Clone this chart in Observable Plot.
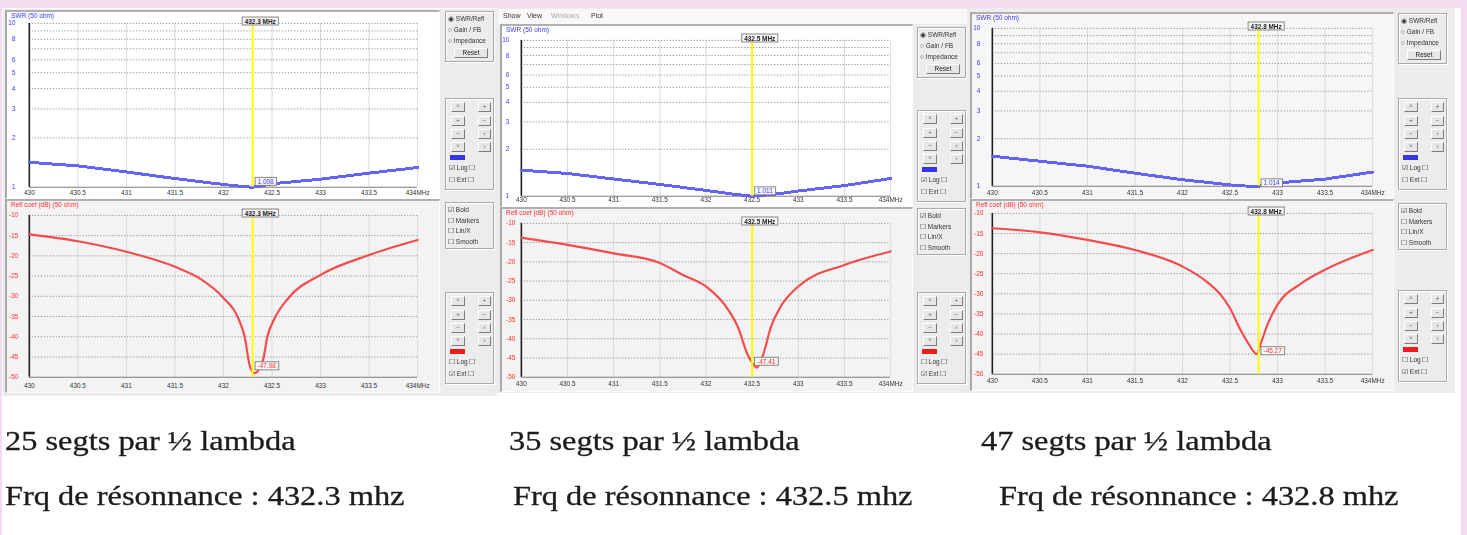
<!DOCTYPE html>
<html><head><meta charset="utf-8">
<script src="https://cdn.jsdelivr.net/npm/d3@7"></script>
<script src="https://cdn.jsdelivr.net/npm/@observablehq/plot@0.6"></script>
<style>
html,body{margin:0;padding:0;}
body{width:1467px;height:535px;background:#f2dcee;position:relative;overflow:hidden;font-family:"Liberation Sans",Arial,sans-serif;}
.abs{position:absolute;}
#paper{left:2px;top:8px;width:1459px;height:527px;background:#fff;}
#root{filter:blur(0.35px);}
.win{background:#ececec;}
.frame{box-sizing:border-box;border-style:solid;border-width:2px 1px 1px 2px;border-color:#b0b0b0 #fcfcfc #fcfcfc #a8a8a8;overflow:visible;}
.frame svg{position:absolute;left:-2px;top:-2px;overflow:visible;}
.box{box-sizing:border-box;border:1px solid #a9a9a9;box-shadow:1px 1px 0 #fff, inset 1px 1px 0 #fff;}
.ui{font-size:6.5px;color:#333;white-space:nowrap;line-height:8px;}
.btn{box-sizing:border-box;border:1px solid;border-color:#fff #7c7c7c #7c7c7c #fff;background:#e6e6e6;font-size:6px;line-height:7px;text-align:center;color:#555;}
.ttl{font-size:6.5px;white-space:nowrap;line-height:7px;}
.cap{font-family:"Liberation Serif","Times New Roman",serif;font-size:27px;line-height:27px;color:#1c1c1c;-webkit-text-stroke:0.3px #1c1c1c;white-space:nowrap;transform:scaleX(1.2);transform-origin:0 0;}
</style>
</head><body>
<div id="paper" class="abs"></div>
<div id="root" class="abs" style="left:0;top:0;width:1467px;height:400px;"></div>
<div id="caps" class="abs" style="left:0;top:0;width:1467px;height:535px;"></div>
<script>
// ---------- data ----------
const freqTicks = [430, 430.5, 431, 431.5, 432, 432.5, 433, 433.5, 434];
const freqTickLabels = ["430", "430.5", "431", "431.5", "432", "432.5", "433", "433.5", "434MHz"];
const swrTicks = [1, 2, 3, 4, 5, 6, 8, 10];
const swrGrid = [2, 3, 4, 5, 6, 7, 8, 9, 10];
const rlTicks = [-10, -15, -20, -25, -30, -35, -40, -45, -50];

const segments = [25, 35, 47];
const resonance = [432.3, 432.5, 432.8];

// 25 segments
const swrFreq1 = [430, 430.5, 431, 431.5, 432, 432.2, 432.3, 432.4, 432.5, 433, 433.5, 434];
const swrVal1  = [1.42, 1.35, 1.24, 1.13, 1.04, 1.01, 1.0, 1.02, 1.05, 1.12, 1.22, 1.32];
const rlFreq1 = [430, 430.5, 431, 431.5, 431.75, 432, 432.15, 432.22, 432.27, 432.32, 432.38, 432.41, 432.45, 432.53, 432.67, 433, 433.5, 434];
const rlVal1  = [-14.7, -16.4, -19.0, -22.7, -25.5, -30.4, -35.3, -40.2, -47.1, -49.0, -47.5, -45.5, -40.2, -35.3, -30.4, -24.7, -19.8, -16.1];

// 35 segments
const swrFreq2 = [430, 430.5, 431, 431.5, 432, 432.3, 432.5, 432.6, 432.8, 433, 433.5, 434];
const swrVal2  = [1.47, 1.40, 1.29, 1.19, 1.09, 1.03, 1.0, 1.01, 1.04, 1.08, 1.17, 1.30];
const rlFreq2 = [430, 430.5, 431, 431.5, 431.75, 432, 432.25, 432.35, 432.45, 432.5, 432.55, 432.62, 432.7, 432.8, 433, 433.5, 434];
const rlVal2  = [-13.7, -15.6, -17.8, -20.3, -23.4, -26.4, -32.8, -37.2, -44.1, -46.2, -47.5, -44.1, -37.2, -32.0, -26.4, -20.8, -17.3];

// 47 segments
const swrFreq3 = [430, 430.5, 431, 431.5, 432, 432.5, 432.7, 432.8, 433, 433.5, 434];
const swrVal3  = [1.55, 1.44, 1.34, 1.21, 1.10, 1.02, 1.0, 1.0, 1.05, 1.11, 1.23];
const rlFreq3 = [430, 430.5, 431, 431.5, 432, 432.25, 432.4, 432.5, 432.6, 432.7, 432.78, 432.82, 432.9, 433, 433.25, 433.5, 434];
const rlVal3  = [-13.7, -14.7, -16.6, -19.1, -23.2, -26.9, -30.2, -33.6, -38.5, -42.6, -45.0, -42.6, -37.3, -32.7, -27.4, -24.0, -19.1];

const swrReadout = ["1.008", "1.011", "1.014"];
const rlReadout = ["-47.98", "-47.41", "-45.27"];

const swrTitle = "SWR (50 ohm)";
const rlTitle = "Refl coef (dB) (50 ohm)";
const radioLabels = ["SWR/Refl", "Gain / FB", "Impedance"];
const checkLabels = ["Bold", "Markers", "Lin/X", "Smooth"];
const menuLabels = ["Show", "View", "Windows", "Plot"];

// ---------- layout ----------
const layout = [
  {win:[3,9,494,387],
   swr:{l:5,t:10,w:435,h:189,x0:29,x1:420,yT:23,yB:188,xp:3,yp:14,bg:"#ffffff",vdy:-5.5},
   rl:{l:5,t:199,w:435,h:194,x0:29,x1:420,yT:215,yB:378,xp:6,yp:11,bg:"#f3f3f3",vdy:-7},
   ctl:{l:445,a:11,b:98,c:202,d:292}},
  {win:[497,8,471,385], menu:true,
   swr:{l:500,t:24,w:413,h:183,x0:521,x1:893,yT:40,yB:197,xp:1.5,yp:12,bg:"#ffffff",vdy:-5},
   rl:{l:500,t:207,w:413,h:185,x0:521,x1:893,yT:223,yB:378,xp:4,yp:6,bg:"#f3f3f3",vdy:-6},
   ctl:{l:917,a:27,b:110,c:208,d:292}},
  {win:[968,8,487,385],
   swr:{l:970,t:12,w:424,h:187,x0:992,x1:1375,yT:28,yB:187,xp:4,yp:12,bg:"#f6f6f6",vdy:-3},
   rl:{l:970,t:199,w:424,h:192,x0:992,x1:1375,yT:213,yB:375,xp:4.5,yp:9,bg:"#f3f3f3",vdy:-3},
   ctl:{l:1398,a:13,b:98,c:203,d:290}}
];
const series = [
  {sf:swrFreq1, sv:swrVal1, rf:rlFreq1, rv:rlVal1},
  {sf:swrFreq2, sv:swrVal2, rf:rlFreq2, rv:rlVal2},
  {sf:swrFreq3, sv:swrVal3, rf:rlFreq3, rv:rlVal3}
];

const root = document.getElementById("root");
const caps = document.getElementById("caps");
function div(cls, l, t, w, h, html, style, parent) {
  const d = document.createElement("div");
  d.className = "abs " + (cls || "");
  d.style.left = l + "px"; d.style.top = t + "px";
  if (w != null) d.style.width = w + "px";
  if (h != null) d.style.height = h + "px";
  if (style) d.style.cssText += style;
  if (html != null) d.innerHTML = html;
  (parent || root).appendChild(d);
  return d;
}

function boxText(svg) {
  svg.querySelectorAll('g[aria-label="text"] text').forEach(t => {
    const b = t.getBBox();
    const r = document.createElementNS("http://www.w3.org/2000/svg", "rect");
    r.setAttribute("x", b.x - 2.5); r.setAttribute("y", b.y - 0.5);
    r.setAttribute("width", b.width + 5); r.setAttribute("height", b.height + 1);
    r.setAttribute("fill", "#f7f7f7"); r.setAttribute("stroke", "#7a7a7a"); r.setAttribute("stroke-width", "0.9");
    if (t.getAttribute("transform")) r.setAttribute("transform", t.getAttribute("transform"));
    t.parentNode.insertBefore(r, t);
  });
}

function chart(g, kind, fs, vs, res, readout) {
  const swr = kind === "swr";
  const col = swr ? "#3a3aff" : "#ff2d2d";
  const data = fs.map((f, i) => ({f, v: vs[i]}));
  const minV = d3.min(vs);
  const yBot = swr ? 1 : -50;
  const frame = div("frame", g.l, g.t, g.w, g.h, null, "background:" + g.bg);
  const svg = Plot.plot({
    width: g.w, height: g.h,
    marginLeft: g.x0 - g.l, marginRight: g.l + g.w - g.x1,
    marginTop: g.yT - g.t, marginBottom: g.t + g.h - g.yB,
    style: {background: "transparent", fontFamily: "'Liberation Sans',Arial,sans-serif", fontSize: "6.5px", overflow: "visible"},
    x: {domain: [430, 434], label: null},
    y: swr ? {type: "log", domain: [1, 10], label: null} : {domain: [-50, -10], label: null},
    marks: [
      Plot.ruleX(freqTicks.slice(1), {stroke: "#dadada", strokeWidth: 1}),
      Plot.ruleY(swr ? swrGrid : rlTicks.slice(0, -1), {stroke: "#989898", strokeDasharray: "1.3,1.7"}),
      Plot.ruleY([yBot], {stroke: "#7a7a7a"}),
      Plot.axisX({ticks: freqTicks, tickSize: 0, tickPadding: g.xp, fill: "#333",
        tickFormat: d => freqTickLabels[freqTicks.indexOf(d)]}),
      Plot.axisY({ticks: swr ? swrTicks : rlTicks, tickSize: 0, tickPadding: g.yp, fill: col,
        tickFormat: d => String(d)}),
      Plot.ruleX([430], {stroke: "#1e1e1e", strokeWidth: 1.6}),
      Plot.line(data, {x: "f", y: "v", stroke: swr ? "#6464f4" : "#f44c4c", strokeWidth: swr ? 3 : 2.2,
        curve: swr ? "linear" : "monotone-x", shapeRendering: swr ? "crispEdges" : "auto"}),
      Plot.ruleX([res], {stroke: "#ffff00", strokeWidth: 2}),
      Plot.text([res], {x: d => d, frameAnchor: "top", dy: -4.5, dx: -8, textAnchor: "start",
        text: d => d.toFixed(1) + " MHz", fill: "#222", fontWeight: "bold"}),
      Plot.text([res], {x: d => d, y: () => minV, dx: 5, dy: g.vdy, textAnchor: "start",
        text: () => readout, fill: col})
    ]
  });
  frame.appendChild(svg);
  boxText(svg);
  div("ttl", g.l + 6, g.t + 2, null, null, swr ? swrTitle : rlTitle, "color:" + col);
}

function controls(c) {
  const w = 49;
  div("box", c.l, c.a, w, 51);
  radioLabels.forEach((s, i) => div("ui", c.l + 3, c.a + 4 + i * 11, null, null,
    (i === 0 ? "&#9673;" : "&#9675;") + "&nbsp;" + s));
  div("btn", c.l + 9, c.a + 37, 34, 10, "Reset", "font-size:6.5px;line-height:8px;color:#222;");
  sideBox(c.l, c.b, w, "#3434e8", [true, false]);
  div("box", c.l, c.c, w, 47);
  checkLabels.forEach((s, i) => div("ui", c.l + 3, c.c + 4 + i * 10.5, null, null,
    (i === 0 ? "&#9745;" : "&#9744;") + "&nbsp;" + s));
  sideBox(c.l, c.d, w, "#ee1c1c", [false, true]);
}
function sideBox(l, t, w, color, checks) {
  div("box", l, t, w, 92);
  const sym = [["&#708;", "+"], ["+", "&minus;"], ["&minus;", "&#8249;"], ["&#709;", "&#8250;"]];
  [4, 18, 31, 44].forEach((dy, i) => {
    div("btn", l + 6, t + dy, 14, 10, sym[i][0]);
    div("btn", l + 33, t + dy, 13, 10, sym[i][1]);
  });
  div("", l + 5, t + 57, 15, 5, null, "background:" + color + ";");
  div("ui", l + 4, t + 66, null, null, (checks[0] ? "&#9745;" : "&#9744;") + "&nbsp;Log&nbsp;&#9744;");
  div("ui", l + 4, t + 78, null, null, (checks[1] ? "&#9745;" : "&#9744;") + "&nbsp;Ext&nbsp;&#9744;");
}

layout.forEach((L, i) => {
  div("win", L.win[0], L.win[1], L.win[2], L.win[3]);
  if (L.menu) {
    div("", L.win[0] + 1, L.win[1] + 1, L.win[2] - 2, 15, null, "background:#f8f8f8;");
    menuLabels.forEach((m, k) => div("ui", [503, 527, 551, 591][k], 12, null, null, m,
      "font-size:7px;color:" + (k === 2 ? "#aaa" : "#333")));
  }
  const S = series[i];
  chart(L.swr, "swr", S.sf, S.sv, resonance[i], swrReadout[i]);
  chart(L.rl, "rl", S.rf, S.rv, resonance[i], rlReadout[i]);
  controls(L.ctl);
});

// captions
const capX1 = [5, 509, 981];
const capX2 = [5, 513, 999];
segments.forEach((s, i) => {
  div("cap", capX1[i], 428, null, null, s + " segts par ½ lambda", null, caps);
  div("cap", capX2[i], 483, null, null, "Frq de résonnance : " + resonance[i].toFixed(1) + " mhz", null, caps);
});
</script>
</body></html>
